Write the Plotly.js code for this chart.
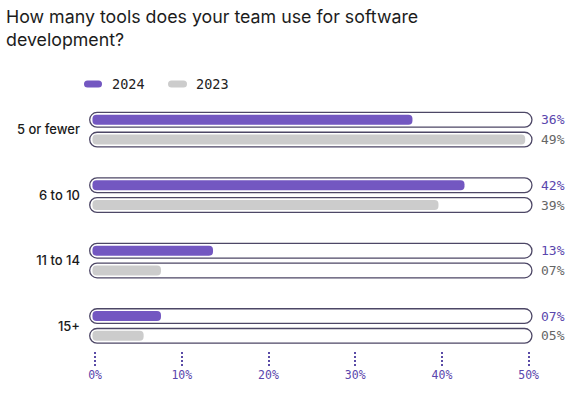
<!DOCTYPE html>
<html>
<head>
<meta charset="utf-8">
<script src="https://cdn.plot.ly/plotly-3.0.1.min.js"></script>
<style>
  html, body { margin: 0; padding: 0; background: #fff; }
  #chart { width: 574px; height: 397px; }
  .shapelayer path { stroke-linecap: round; }
  path.xtick.ticks { stroke-dasharray: 2px 2px; }
</style>
</head>
<body>
<div id="chart"></div>
<script>
// ---- data ----
const categories = ["5 or fewer", "6 to 10", "11 to 14", "15+"];
const values2024 = [36, 42, 13, 7];
const values2023 = [49, 39, 7, 5];
const labels2024 = ["36%", "42%", "13%", "07%"];
const labels2023 = ["49%", "39%", "07%", "05%"];
const tickVals = [0, 10, 20, 30, 40, 50];
const tickText = ["0%", "10%", "20%", "30%", "40%", "50%"];

// ---- styles ----
const PURPLE = "#7357c1";
const GRAY = "#cccccc";
const OUTLINE = "#4d4766";
const MONO = "DejaVu Sans Mono, Liberation Mono, monospace";
const SANS = "Inter, Noto Sans, sans-serif";
const ROW = 0.151;        // half distance between the two rows of a category (axis units)
const TRACK_H = 0.225;    // track thickness (axis units)
const BAR_H = 0.152;      // bar thickness (axis units)
const TRACK_MAX = 50;     // scale maximum
const CAP = 0.9;          // rounded cap overhang

function track(sign) {
  return {
    type: "bar", orientation: "h",
    y: categories,
    x: categories.map(() => TRACK_MAX + 1.0),
    base: -0.62,
    offset: sign * ROW - TRACK_H / 2,
    width: TRACK_H,
    marker: { color: "#ffffff", line: { color: OUTLINE, width: 1.3 }, cornerradius: "50%" },
    hoverinfo: "skip", showlegend: false
  };
}
function bars(vals, color, sign, name) {
  return {
    type: "bar", orientation: "h", name: name,
    y: categories,
    x: vals.map(v => v + CAP),
    base: -0.3,
    offset: sign * ROW - BAR_H / 2,
    width: BAR_H,
    marker: { color: color, line: { width: 0 }, cornerradius: "50%" },
    customdata: vals,
    hovertemplate: "%{y}: %{customdata}%<extra>" + name + "</extra>",
    showlegend: false
  };
}

const data = [
  track(-1), track(1),
  bars(values2024, PURPLE, -1, "2024"),
  bars(values2023, GRAY, 1, "2023")
];

const annotations = [];
categories.forEach((c, i) => {
  annotations.push({ xref: "x", yref: "y", x: TRACK_MAX + 0.38, y: i, yshift: 9.9,
    xanchor: "left", xshift: 7, showarrow: false, text: labels2024[i],
    font: { family: MONO, size: 13, color: "#5a46ad" } });
  annotations.push({ xref: "x", yref: "y", x: TRACK_MAX + 0.38, y: i, yshift: -9.9,
    xanchor: "left", xshift: 7, showarrow: false, text: labels2023[i],
    font: { family: MONO, size: 13, color: "#666666" } });
});
// legend text
annotations.push({ xref: "paper", yref: "paper", x: 0.047, y: 1.048, xanchor: "left", yanchor: "middle",
  showarrow: false, text: "2024", font: { family: MONO, size: 13.5, color: "#222" } });
annotations.push({ xref: "paper", yref: "paper", x: 0.2365, y: 1.048, xanchor: "left", yanchor: "middle",
  showarrow: false, text: "2023", font: { family: MONO, size: 13.5, color: "#222" } });

const shapes = [
  { type: "line", xref: "paper", yref: "paper", xsizemode: "pixel", ysizemode: "pixel",
    xanchor: 0, yanchor: 1, x0: -1.5, x1: 9.5, y0: 13, y1: 13,
    line: { color: PURPLE, width: 7 } },
  { type: "line", xref: "paper", yref: "paper", xsizemode: "pixel", ysizemode: "pixel",
    xanchor: 0, yanchor: 1, x0: 82.5, x1: 94.5, y0: 13, y1: 13,
    line: { color: GRAY, width: 7 } }
];

const layout = {
  width: 574, height: 397,
  margin: { l: 89, r: 41, t: 97, b: 31 },
  paper_bgcolor: "#ffffff", plot_bgcolor: "#ffffff",
  barmode: "overlay",
  showlegend: false,
  title: {
    text: "How many tools does your team use for software<br>development?",
    x: 0.0105, xanchor: "left", xref: "container", y: 0.942, yanchor: "top", yref: "container",
    font: { family: SANS, size: 17.8, color: "#1c1c1c" }
  },
  xaxis: {
    range: [-0.7, 50.5],
    tickvals: tickVals, ticktext: tickText,
    ticks: "inside", ticklen: 16, tickwidth: 2, tickcolor: "#5a4ba6",
    showgrid: false, zeroline: false, showline: false,
    tickfont: { family: MONO, size: 11.5, color: "#5a46ad" }
  },
  yaxis: {
    type: "category",
    range: [3.612, -0.5],
    showgrid: false, zeroline: false, showline: false,
    ticks: "", ticklabelstandoff: 8,
    tickfont: { family: SANS, size: 13, color: "#1a1a1a", weight: 500 }
  },
  annotations: annotations,
  shapes: shapes
};

Plotly.newPlot("chart", data, layout, { displayModeBar: false, staticPlot: true });
</script>
</body>
</html>
